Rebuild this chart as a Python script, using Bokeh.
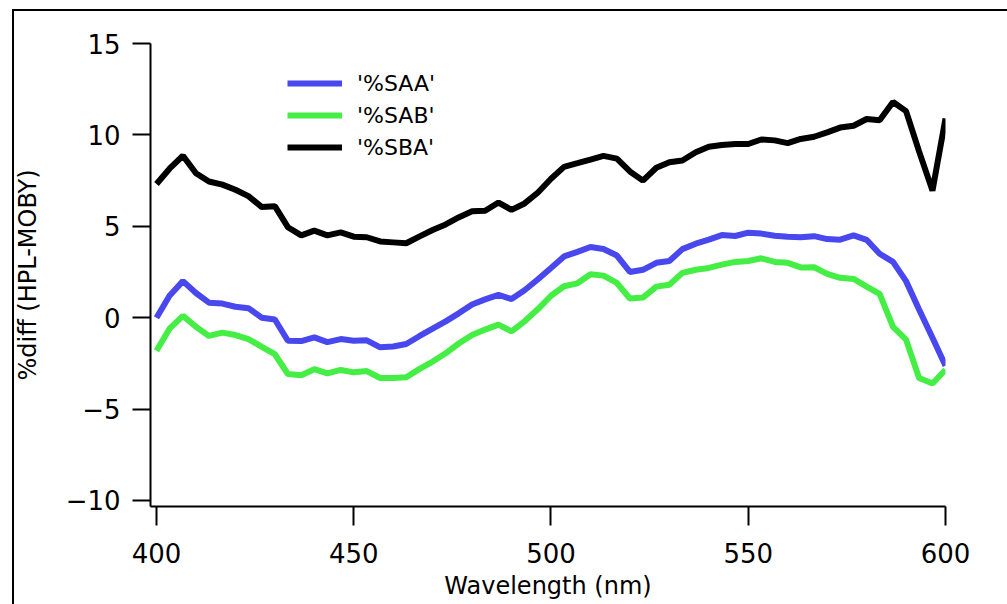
from bokeh.plotting import figure
from bokeh.models import Range1d, FixedTicker, Legend, LegendItem
from bokeh.embed import file_html
from bokeh.resources import INLINE

# Wavelength grid (nm)
wavelength = [400.0, 403.3, 406.7, 410.0, 413.3, 416.7, 420.0, 423.3, 426.7, 430.0,
              433.3, 436.7, 440.0, 443.3, 446.7, 450.0, 453.3, 456.7, 460.0, 463.3,
              466.7, 470.0, 473.3, 476.7, 480.0, 483.3, 486.7, 490.0, 493.3, 496.7,
              500.0, 503.3, 506.7, 510.0, 513.3, 516.7, 520.0, 523.3, 526.7, 530.0,
              533.3, 536.7, 540.0, 543.3, 546.7, 550.0, 553.3, 556.7, 560.0, 563.3,
              566.7, 570.0, 573.3, 576.7, 580.0, 583.3, 586.7, 590.0, 593.3, 596.7,
              600.0]

# Percent differences HPL vs MOBY
pct_saa = [0.0, 1.2, 2.0, 1.35, 0.82, 0.77, 0.6, 0.52, 0.0, -0.1,
           -1.26, -1.28, -1.08, -1.34, -1.17, -1.26, -1.24, -1.62, -1.58, -1.44,
           -1.0, -0.6, -0.2, 0.25, 0.72, 1.0, 1.25, 1.02, 1.5, 2.1,
           2.72, 3.35, 3.6, 3.87, 3.76, 3.4, 2.5, 2.62, 3.0, 3.1,
           3.75, 4.05, 4.27, 4.52, 4.47, 4.65, 4.6, 4.48, 4.43, 4.4,
           4.46, 4.3, 4.27, 4.5, 4.26, 3.5, 3.05, 2.0, 0.45, -1.1,
           -2.63]

pct_sab = [-1.81, -0.6, 0.1, -0.5, -1.0, -0.82, -0.95, -1.17, -1.6, -2.0,
           -3.08, -3.15, -2.82, -3.05, -2.86, -2.99, -2.92, -3.3, -3.3, -3.26,
           -2.8, -2.4, -1.95, -1.4, -0.95, -0.65, -0.38, -0.75, -0.2, 0.47,
           1.2, 1.72, 1.88, 2.38, 2.3, 1.9, 1.05, 1.1, 1.7, 1.8,
           2.45, 2.62, 2.72, 2.9, 3.05, 3.1, 3.25, 3.05, 3.0, 2.75,
           2.76, 2.4, 2.18, 2.12, 1.7, 1.3, -0.5, -1.2, -3.3, -3.6,
           -2.85]

pct_sba = [7.31, 8.15, 8.86, 7.9, 7.45, 7.28, 7.0, 6.65, 6.05, 6.1,
           4.95, 4.5, 4.76, 4.5, 4.67, 4.43, 4.4, 4.17, 4.12, 4.07,
           4.45, 4.8, 5.1, 5.5, 5.82, 5.85, 6.3, 5.9, 6.25, 6.85,
           7.6, 8.25, 8.45, 8.65, 8.85, 8.7, 8.0, 7.5, 8.2, 8.5,
           8.6, 9.05, 9.35, 9.45, 9.5, 9.5, 9.75, 9.7, 9.55, 9.78,
           9.9, 10.14, 10.4, 10.5, 10.87, 10.8, 11.8, 11.3, 9.1, 6.95,
           10.9]

series_names = ["'%SAA'", "'%SAB'", "'%SBA'"]
series_colors = ["#4848ee", "#44ee44", "#000000"]

x_ticks = [400, 450, 500, 550, 600]
y_ticks = [-10, -5, 0, 5, 10, 15]

FONT = "DejaVu Sans"

p = figure(width=1007, height=604, output_backend="svg", toolbar_location=None,
           x_range=Range1d(398.48, 600), y_range=Range1d(-10.33, 15),
           min_border_left=150, min_border_right=62,
           min_border_top=43, min_border_bottom=98)
p.outline_line_color = None
p.grid.visible = False
# transparent canvas so the page frame drawn behind it shows through
p.background_fill_color = None
p.border_fill_color = None
p.styles = {
    "background-color": "white",
    "background-image": "linear-gradient(#000, #000), linear-gradient(#000, #000)",
    "background-position": "12px 9px, 12px 9px",
    "background-size": "2px 100%, 100% 2px",
    "background-repeat": "no-repeat, no-repeat",
}

renderers = []
for ys, col in zip([pct_saa, pct_sab, pct_sba], series_colors):
    r = p.line(wavelength, ys, line_color=col, line_width=6)
    renderers.append(r)

for ax in (p.xaxis[0], p.yaxis[0]):
    ax.axis_line_width = 2
    ax.axis_line_color = "black"
    ax.major_tick_line_width = 2
    ax.major_tick_line_color = "black"
    ax.major_tick_in = 0
    ax.minor_tick_line_color = None
    ax.major_label_text_font = FONT
    ax.major_label_text_font_size = "26px"
    ax.major_label_text_color = "black"
    ax.axis_label_text_font = FONT
    ax.axis_label_text_font_size = "24px"
    ax.axis_label_text_font_style = "normal"
    ax.axis_label_text_color = "black"

p.xaxis[0].ticker = FixedTicker(ticks=x_ticks)
p.xaxis[0].major_tick_out = 19
p.xaxis[0].major_label_standoff = 17
p.xaxis[0].axis_label = "Wavelength (nm)"
p.xaxis[0].axis_label_standoff = 6

p.yaxis[0].ticker = FixedTicker(ticks=y_ticks)
p.yaxis[0].major_tick_out = 18
p.yaxis[0].major_label_standoff = 12
p.yaxis[0].axis_label = "%diff (HPL-MOBY)"
p.yaxis[0].axis_label_standoff = 21

legend = Legend(
    items=[LegendItem(label=n, renderers=[r]) for n, r in zip(series_names, renderers)],
    location=(137, 343), orientation="vertical",
    background_fill_alpha=0, border_line_alpha=0,
    glyph_width=55, glyph_height=32, label_height=32, label_standoff=15,
    spacing=0, padding=0, margin=0,
    label_text_font=FONT, label_text_font_size="22px", label_text_color="black")
p.add_layout(legend)

open("out.html", "w").write(file_html(p, INLINE))
